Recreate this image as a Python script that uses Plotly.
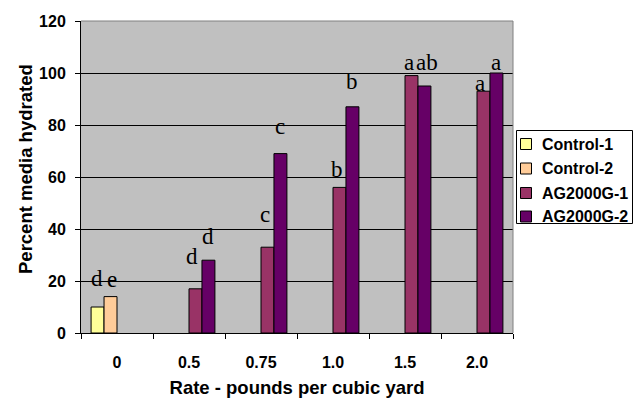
import plotly.graph_objects as go

# ---------------- data ----------------
categories = ["0", "0.5", "0.75", "1.0", "1.5", "2.0"]
series_names = ["Control-1", "Control-2", "AG2000G-1", "AG2000G-2"]
control1 = [10, None, None, None, None, None]
control2 = [14, None, None, None, None, None]
ag2000g1 = [None, 17, 33, 56, 99, 93]
ag2000g2 = [None, 28, 69, 87, 95, 100]
control1_letters = ["d", "", "", "", "", ""]
control2_letters = ["e", "", "", "", "", ""]
ag2000g1_letters = ["", "d", "c", "b", "a", "a"]
ag2000g2_letters = ["", "d", "c", "b", "ab", "a"]
y_ticks = [0, 20, 40, 60, 80, 100, 120]
x_title = "Rate - pounds per cubic yard"
y_title = "Percent media hydrated"

# ---------------- styling / layout ----------------
colors = ["#FFFF99", "#FFCC99", "#993366", "#660066"]
W, H = 633, 398
ML, MR, MT, MB = 81, 120, 21, 65
PW, PH = W - ML - MR, H - MT - MB
BARGAP = 0.28
SANS = "Liberation Sans, Arial, sans-serif"
SERIF = "Liberation Serif, Times New Roman, serif"

all_values = [control1, control2, ag2000g1, ag2000g2]
all_letters = [control1_letters, control2_letters, ag2000g1_letters, ag2000g2_letters]

# hand-placed letter nudges (px): (dx from bar centre, gap from bar top to baseline)
letter_nudges = [
    [(-1, 20), None, None, None, None, None],
    [(1, 9), None, None, None, None, None],
    [None, (-3, 24), (-2, 24), (-2, 9), (-2, 5), (-3, -0.5)],
    [None, (0, 15), (0, 19), (0, 16.5), (2.5, 15), (0, 2.5)],
]
DESCENT = 6  # px between annotation box bottom and text baseline

fig = go.Figure()
for name, vals, col in zip(series_names, all_values, colors):
    fig.add_trace(go.Bar(
        x=categories, y=vals, name=name,
        marker=dict(color=col, line=dict(color="#000000", width=1)),
        showlegend=False,
    ))

cat_px = PW / len(categories)
bar_px = cat_px * (1 - BARGAP) / len(series_names)
annotations = []
for k, (vals, lets, nud) in enumerate(zip(all_values, all_letters, letter_nudges)):
    slot = (k - (len(series_names) - 1) / 2) * bar_px
    for i, (v, t) in enumerate(zip(vals, lets)):
        if v is None or not t:
            continue
        dx, gap = nud[i]
        annotations.append(dict(
            x=i, y=v, xref="x", yref="y", text=t, showarrow=False,
            xanchor="center", yanchor="bottom", xshift=slot + dx, yshift=gap - DESCENT,
            font=dict(family=SERIF, size=23, color="#000000"),
        ))


def px2x(px):
    return (px - ML) / PW


def py2y(py):
    return (H - MB - py) / PH


shapes = [
    # grey plot-area frame on top and right
    dict(type="line", xref="paper", yref="paper", x0=0, x1=1, y0=1, y1=1,
         line=dict(color="#808080", width=1), layer="above"),
    dict(type="line", xref="paper", yref="paper", x0=1, x1=1, y0=0, y1=1,
         line=dict(color="#808080", width=1), layer="above"),
    # legend box
    dict(type="rect", xref="paper", yref="paper",
         x0=px2x(516.5), x1=px2x(632.5), y0=py2y(223.5), y1=py2y(130.5),
         line=dict(color="#000000", width=1), fillcolor="#FFFFFF", layer="above"),
]
row_y = [144, 168.5, 193, 216.5]
for name, col, ry in zip(series_names, colors, row_y):
    shapes.append(dict(type="rect", xref="paper", yref="paper",
                       x0=px2x(520.5), x1=px2x(531.5), y0=py2y(ry + 5.5), y1=py2y(ry - 5.5),
                       line=dict(color="#000000", width=1), fillcolor=col, layer="above"))
    annotations.append(dict(x=px2x(540), y=py2y(ry), xref="paper", yref="paper", text=f"<b>{name}</b>",
                            showarrow=False, xanchor="left", yanchor="middle",
                            font=dict(family=SANS, size=16, color="#000000")))

# y-axis title (placed slightly above the plot centre, as in the reference)
annotations.append(dict(x=px2x(25), y=py2y(169), xref="paper", yref="paper", text=f"<b>{y_title}</b>",
                        textangle=-90, showarrow=False, xanchor="center", yanchor="middle",
                        font=dict(family=SANS, size=18.5, color="#000000")))

fig.update_layout(
    width=W, height=H,
    margin=dict(l=ML, r=MR, t=MT, b=MB, pad=0, autoexpand=False),
    paper_bgcolor="#FFFFFF", plot_bgcolor="#C0C0C0",
    barmode="group", bargap=BARGAP, bargroupgap=0,
    showlegend=False,
    annotations=annotations, shapes=shapes,
    xaxis=dict(
        type="category", categoryorder="array", categoryarray=categories,
        tickson="boundaries", ticks="outside", ticklen=5, tickcolor="#000000", tickwidth=1,
        showline=True, linecolor="#000000", linewidth=1, showgrid=False,
        ticklabelstandoff=15, automargin=False,
        tickfont=dict(family=SANS, size=16, color="#000000", weight="bold"),
        title=dict(text=f"<b>{x_title}</b>", standoff=17,
                   font=dict(family=SANS, size=18.5, color="#000000")),
    ),
    yaxis=dict(
        range=[0, 120], tickvals=y_ticks, ticks="outside", ticklen=5, tickcolor="#000000", tickwidth=1,
        showline=True, linecolor="#000000", linewidth=1,
        showgrid=True, gridcolor="#000000", gridwidth=1, zeroline=False,
        ticklabelstandoff=6, automargin=False,
        tickfont=dict(family=SANS, size=16, color="#000000", weight="bold"),
    ),
)

fig.write_html("out.html", config={"displayModeBar": False},
               post_script="document.body.style.margin='0';document.body.style.padding='0';")
